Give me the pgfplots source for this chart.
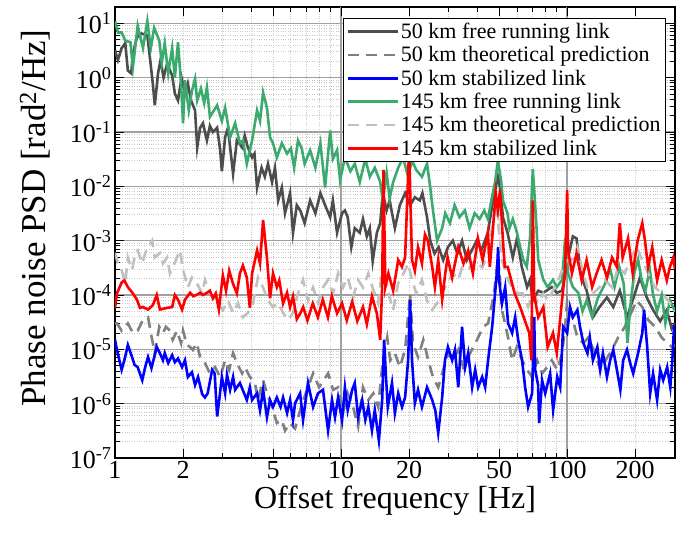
\documentclass[border=0pt]{standalone}
\usepackage{fontspec}
\setmainfont{Liberation Serif}
\usepackage{pgfplots}
\pgfplotsset{compat=1.18}
\definecolor{kgray}{RGB}{77,77,77}
\definecolor{dgray}{RGB}{128,128,128}
\definecolor{lgray}{RGB}{192,192,192}
\definecolor{fgreen}{RGB}{60,170,110}
\begin{document}
\begin{tikzpicture}
\begin{axis}[
  xmode=log, ymode=log,
  xmin=1, xmax=300, ymin=1e-7, ymax=20,
  scale only axis, width=560pt, height=451pt,
  xtick={1,2,5,10,20,50,100,200},
  xticklabels={1,2,5,10,20,50,100,200},
  minor xtick={2,3,4,5,6,7,8,9,20,30,40,50,60,70,80,90,200,300},
  extra x ticks={10,100}, extra x tick labels={},
  extra x tick style={grid=major},
  ytick={1e-7,1e-6,1e-5,1e-4,1e-3,1e-2,1e-1,1,10},
  yticklabels={10\textsuperscript{-7},10\textsuperscript{-6},10\textsuperscript{-5},10\textsuperscript{-4},10\textsuperscript{-3},10\textsuperscript{-2},10\textsuperscript{-1},10\textsuperscript{0},10\textsuperscript{1}},
  minor ytick={2e-7,3e-7,4e-7,5e-7,6e-7,7e-7,8e-7,9e-7,
               2e-6,3e-6,4e-6,5e-6,6e-6,7e-6,8e-6,9e-6,
               2e-5,3e-5,4e-5,5e-5,6e-5,7e-5,8e-5,9e-5,
               2e-4,3e-4,4e-4,5e-4,6e-4,7e-4,8e-4,9e-4,
               2e-3,3e-3,4e-3,5e-3,6e-3,7e-3,8e-3,9e-3,
               2e-2,3e-2,4e-2,5e-2,6e-2,7e-2,8e-2,9e-2,
               2e-1,3e-1,4e-1,5e-1,6e-1,7e-1,8e-1,9e-1,
               2,3,4,5,6,7,8,9},
  xmajorgrids=false, xminorgrids=true,
  ymajorgrids=true, yminorgrids=true,
  major grid style={draw={rgb,255:red,160;green,160;blue,160}, line width=1.3pt},
  minor grid style={draw={rgb,255:red,200;green,200;blue,200}, dotted, line width=0.9pt},
  major tick length=9pt, minor tick length=5pt,
  every tick/.style={black, line width=0.9pt},
  axis line style={black, line width=1.3pt},
  tick label style={font=\fontsize{26}{31}\selectfont},
  xlabel style={font=\fontsize{32}{38}\selectfont},
  ylabel style={font=\fontsize{35}{40}\selectfont, at={(axis description cs:-0.143,0.532)}, anchor=center},
  xlabel={Offset frequency [Hz]},
  ylabel={Phase noise PSD [rad\textsuperscript{2}/Hz]},
  legend style={at={(0.984,0.976)}, anchor=north east,
    font=\fontsize{22}{24}\selectfont, draw=black, line width=0.8pt,
    fill=white, inner sep=3pt, row sep=2.5pt},
  legend cell align=left,
  legend image code/.code={\draw[#1] (0pt,0pt) -- (50pt,0pt);},
  every axis plot/.append style={line width=2.6pt, no markers},
]
% 50 km free running link
\addplot[kgray] coordinates {
(1.0,3.2)(1.03,2.1)(1.07,3.5)(1.11,4.3)(1.14,1.35)(1.18,1.2)(1.2,2.8)(1.25,5.5)(1.31,6.5)(1.39,6)(1.42,2.8)(1.47,0.78)(1.5,0.31)(1.55,1.2)(1.59,2.1)(1.64,1.0)(1.7,1.8)(1.79,1.1)(1.84,0.51)(1.9,0.38)(1.97,1.0)(2.04,0.51)(2.1,0.78)(2.17,0.38)(2.26,0.25)(2.31,0.052)(2.38,0.12)(2.45,0.145)(2.55,0.07)(2.63,0.13)(2.71,0.1)(2.83,0.12)(2.92,0.046)(2.97,0.019)(3.07,0.08)(3.16,0.12)(3.33,0.017)(3.46,0.07)(3.65,0.052)(3.75,0.086)(3.87,0.052)(4.04,0.034)(4.14,0.04)(4.25,0.0095)(4.45,0.022)(4.6,0.015)(4.75,0.026)(4.95,0.012)(5.1,0.022)(5.27,0.0055)(5.47,0.0095)(5.65,0.0032)(5.95,0.0075)(6.13,0.0014)(6.37,0.0045)(6.6,0.0036)(6.9,0.0021)(7.3,0.0055)(7.7,0.0032)(8.1,0.0075)(8.5,0.0045)(8.95,0.0027)(9.2,0.0055)(9.6,0.0014)(10.1,0.0032)(10.4,0.0036)(10.7,0.0027)(11.1,0.00076)(11.5,0.0017)(12.1,0.0014)(12.5,0.0025)(13,0.0012)(13.4,0.0017)(13.8,0.00042)(14.4,0.0014)(14.9,0.0021)(15.3,0.0075)(15.9,0.0036)(16.4,0.0055)(17.3,0.0017)(18.2,0.0045)(19.2,0.0075)(20.2,0.0045)(21.2,0.0063)(22.3,0.0055)(22.9,0.0075)(24,0.0027)(24.8,0.001)(25.9,0.00058)(27,0.00076)(28.3,0.00044)(29.7,0.00076)(31.2,0.001)(32.7,0.00058)(34.3,0.001)(36,0.00044)(37.9,0.00067)(39.8,0.001)(41.8,0.00067)(44.6,0.0014)(47,0.0055)(49.4,0.015)(50.5,0.0095)(52,0.0027)(54.5,0.0014)(57.5,0.00049)(60,0.0011)(63,0.00033)(66.5,0.00014)(68.5,0.00019)(70.5,8e-5)(74.5,1.2e-4)(78.5,1.1e-4)(85.5,1.4e-4)(90,1.1e-4)(95,1.2e-4)(101,0.00049)(106,0.0012)(110,0.0011)(113,0.00044)(117,0.00019)(122,1.2e-4)(130,3.9e-5)(139,6e-5)(150,9e-5)(160,6e-5)(171,1.2e-4)(184,3.9e-5)(195,8e-5)(210,2.1e-4)(225,9e-5)(240,5.3e-5)(258,3.3e-5)(276,5.3e-5)(290,2.4e-5)(300,3e-5)
};
\addlegendentry{50 km free running link}
% 50 km theoretical prediction
\addplot[dgray, dash pattern=on 11pt off 7pt] coordinates {
(1.0,3e-5)(1.02,3e-5)(1.07,2.2e-5)(1.11,2.6e-5)(1.14,3e-5)(1.2,2e-5)(1.26,2.2e-5)(1.33,3.5e-5)(1.4,3.9e-5)(1.46,1.5e-5)(1.5,8.5e-6)(1.57,2.6e-5)(1.63,2e-5)(1.68,2.6e-5)(1.75,2.2e-5)(1.8,1.5e-5)(1.88,2.2e-5)(1.96,1.3e-5)(2.0,2.2e-5)(2.08,1.2e-5)(2.15,1.1e-5)(2.21,9.8e-6)(2.3,1.3e-5)(2.38,7.2e-6)(2.5,5.6e-6)(2.63,3.6e-6)(2.77,4.7e-6)(2.92,3.1e-6)(3.07,6.3e-6)(3.2,4.2e-6)(3.33,8.5e-6)(3.46,5.6e-6)(3.65,3.6e-6)(3.76,4.7e-6)(3.95,3.1e-6)(4.16,2.4e-6)(4.29,1.17e-6)(4.52,2.7e-6)(4.7,1.55e-6)(4.95,8.7e-7)(5.2,4.4e-7)(5.47,5e-7)(5.65,3.2e-7)(5.95,4.4e-7)(6.26,3.5e-7)(6.72,1e-6)(7.14,2e-6)(7.52,3.6e-6)(8.0,2e-6)(8.76,3.6e-6)(9.22,1.8e-6)(9.7,2e-6)(10.2,6.7e-7)(10.7,1.55e-6)(11.3,8.7e-7)(11.9,3.8e-7)(12.5,2e-6)(13.2,1.17e-6)(13.9,1.55e-6)(14.6,8.7e-7)(15.3,6.3e-6)(16,1.65e-5)(16.5,6.3e-6)(17.3,8.5e-6)(18.2,4.7e-6)(19.2,9.8e-6)(20.2,1.07e-4)(20.8,1.3e-5)(21.9,7.2e-6)(23.1,1.5e-5)(24.3,6.3e-6)(25.5,3.1e-6)(26.9,2e-6)(28.3,4.2e-6)(29.7,8.5e-6)(31.3,6.3e-6)(33,9.8e-6)(34.7,4.7e-6)(36.5,7.2e-6)(38.4,1.1e-5)(40.4,1.65e-5)(42.5,2.6e-5)(44.7,3e-5)(47.5,1.07e-4)(49.4,5e-4)(50.5,1.9e-4)(51.5,5.3e-5)(54.8,1.65e-5)(57.1,6.3e-6)(59.9,1.1e-5)(63.2,6.3e-6)(66.5,4.2e-6)(70,3.1e-6)(73.7,6.3e-6)(77.5,3.6e-6)(81.6,4.7e-6)(85.5,6.3e-6)(90.4,4.2e-6)(95,8.5e-6)(98,2.6e-5)(100,7.9e-5)(106,3.5e-5)(111,1.65e-5)(118,1.3e-5)(124,1.65e-5)(133,8.5e-6)(140,4.2e-6)(148,6.3e-6)(158,9.8e-6)(168,1.65e-5)(180,2.6e-5)(192,4.7e-5)(203,7.9e-5)(215,6e-5)(228,3.5e-5)(245,2.6e-5)(262,1.65e-5)(277,1.3e-5)(292,1.1e-5)(300,1.2e-5)
};
\addlegendentry{50 km theoretical prediction}
% 50 km stabilized link
\addplot[blue] coordinates {
(1.0,1.5e-5)(1.02,9.8e-6)(1.07,4.2e-6)(1.1,6.3e-6)(1.14,1.2e-5)(1.19,7.2e-6)(1.22,5.2e-6)(1.26,4.7e-6)(1.32,2.7e-6)(1.36,4.7e-6)(1.4,7.2e-6)(1.45,4.5e-6)(1.53,1.1e-5)(1.58,8.5e-6)(1.63,6.3e-6)(1.66,8.5e-6)(1.72,5.6e-6)(1.79,7.8e-6)(1.84,5.8e-6)(1.9,6.8e-6)(1.98,4.7e-6)(2.04,6.3e-6)(2.1,3.1e-6)(2.19,3.8e-6)(2.26,2.2e-6)(2.33,3.1e-6)(2.43,1.5e-6)(2.5,1.3e-6)(2.57,1.55e-6)(2.69,4.2e-6)(2.76,3.6e-6)(2.83,5.8e-7)(2.9,1.3e-6)(2.97,3.1e-6)(3.07,1.55e-6)(3.13,3.4e-6)(3.23,1.8e-6)(3.33,3.1e-6)(3.4,1.8e-6)(3.57,2.4e-6)(3.83,1.17e-6)(3.95,2e-6)(4.04,1.17e-6)(4.25,1.55e-6)(4.38,7.6e-7)(4.52,1.8e-6)(4.7,5.6e-7)(4.85,1.17e-6)(5.0,8.7e-7)(5.2,1.3e-6)(5.4,8.7e-7)(5.54,1.3e-6)(5.77,6.7e-7)(5.95,1.17e-6)(6.13,5e-7)(6.26,1.02e-6)(6.59,1.55e-6)(6.79,5e-7)(7.14,2.4e-6)(7.52,8.7e-7)(7.91,1.55e-6)(8.32,1.8e-6)(8.76,3.2e-7)(9.12,1.17e-6)(9.4,5.6e-7)(9.7,1.3e-6)(10.1,5e-7)(10.4,2e-6)(10.7,7.6e-7)(11.2,1.8e-6)(11.5,2.4e-6)(11.9,5.6e-7)(12.4,1.17e-6)(12.8,5e-7)(13.2,8.7e-7)(13.7,3.2e-7)(14.1,7.6e-7)(14.7,2.1e-7)(15.2,1.17e-6)(15.5,1.5e-5)(15.8,3.1e-6)(16.1,8.7e-7)(16.8,2.4e-6)(17.3,6.7e-7)(17.9,1.55e-6)(18.6,8.7e-7)(19.2,1.3e-6)(19.8,6.3e-6)(20.2,8e-5)(20.6,6.3e-6)(21.2,1.02e-6)(21.9,1.8e-6)(22.8,8.7e-7)(24,2e-6)(25.3,1.17e-6)(26.1,7.6e-7)(26.9,2.9e-7)(28,1.3e-6)(28.8,6.3e-6)(29.7,1.1e-5)(31,6.3e-6)(31.9,9.8e-6)(33,2e-6)(34.3,2.6e-5)(35.4,4.7e-6)(36.5,8.5e-6)(38,2e-6)(39.2,4.2e-6)(40.4,2e-6)(42.1,3.1e-6)(43.4,2e-6)(44.7,6.3e-6)(46.6,2.6e-5)(48,1.07e-4)(49,2.9e-4)(49.5,7.6e-4)(50,1.85e-4)(51.5,7e-5)(53.2,1.4e-4)(54.8,3e-5)(57.1,2e-5)(58.9,3.9e-5)(60.7,1.5e-5)(63.2,6.3e-6)(65.2,2e-6)(67.2,8.7e-7)(70,1.55e-6)(71.5,3.9e-5)(72.2,4.2e-6)(74.4,2.2e-6)(75.2,4.4e-7)(77.5,2.7e-6)(80,1.55e-6)(84.1,3.6e-6)(86.7,7.6e-7)(90.4,3.1e-6)(93.2,2e-6)(96,2.6e-5)(100,2e-5)(103,6e-5)(106,3.9e-5)(111,5.3e-5)(114,2.6e-5)(118,1.3e-5)(123,8.5e-6)(126,1.65e-5)(130,6.3e-6)(136,1.1e-5)(140,4.2e-6)(144,8.5e-6)(150,3.1e-6)(155,6.3e-6)(160,9.8e-6)(166,4.2e-6)(172,1.8e-6)(177,6.3e-6)(184,9.8e-6)(190,5.6e-6)(196,3.6e-6)(206,8.5e-6)(215,2e-5)(219,5.3e-5)(226,1.1e-5)(233,1.55e-6)(240,3.6e-6)(250,1.17e-6)(258,4.2e-6)(266,2.7e-6)(277,4.7e-6)(286,2e-6)(292,6.3e-6)(297,2.6e-5)(300,2.8e-5)
};
\addlegendentry{50 km stabilized link}
% 145 km free running link
\addplot[fgreen] coordinates {
(1.0,11)(1.03,6.8)(1.07,6.8)(1.11,4.8)(1.17,4.5)(1.2,1.55)(1.26,9)(1.33,3.5)(1.39,11)(1.44,3.5)(1.49,8.3)(1.57,4.8)(1.61,1.9)(1.66,4.3)(1.72,1.2)(1.79,3.5)(1.84,1.0)(1.9,4.5)(1.96,0.78)(2.0,0.145)(2.04,0.9)(2.12,0.25)(2.19,0.57)(2.26,0.95)(2.31,0.38)(2.4,0.63)(2.48,0.34)(2.55,0.66)(2.63,0.19)(2.83,0.31)(2.97,0.16)(3.07,0.28)(3.23,0.08)(3.4,0.145)(3.57,0.062)(3.68,0.07)(3.83,0.026)(4.04,0.07)(4.25,0.25)(4.38,0.16)(4.52,0.53)(4.7,0.28)(4.85,0.08)(5.0,0.062)(5.2,0.034)(5.47,0.062)(5.77,0.04)(6.0,0.05)(6.2,0.022)(6.45,0.07)(6.7,0.05)(6.9,0.026)(7.3,0.046)(7.7,0.022)(8.1,0.062)(8.5,0.0095)(8.95,0.107)(9.2,0.032)(9.6,0.046)(9.9,0.013)(10.4,0.034)(11,0.019)(11.5,0.026)(12.1,0.012)(12.8,0.032)(13.4,0.015)(14.1,0.022)(14.9,0.012)(15.3,0.0055)(15.9,0.018)(16.4,0.006)(17,0.012)(17.9,0.022)(18.8,0.034)(19.8,0.015)(20.6,0.03)(21.5,0.02)(22.8,0.015)(24,0.026)(24.8,0.0095)(25.5,0.0036)(26.6,0.001)(28,0.0017)(28.9,0.0032)(30.3,0.0021)(31.8,0.0045)(33.4,0.0027)(35.3,0.0036)(37,0.0017)(39,0.0032)(41,0.0025)(43,0.0036)(44.6,0.0025)(46.5,0.0063)(48,0.012)(49.4,0.03)(51,0.013)(52,0.0055)(54.5,0.0032)(55.6,0.0017)(57.5,0.0025)(60,0.0014)(62,0.00076)(64,0.00044)(66.3,0.00033)(68.5,0.0011)(70.5,0.021)(72.8,0.0027)(74.5,0.00044)(78.5,0.00019)(82,0.00014)(86.6,0.00019)(90,0.00014)(95,0.00019)(98,0.0011)(101,0.00025)(106,0.00014)(112,1.1e-4)(117,5e-5)(122,8e-5)(129,4e-5)(137,9e-5)(147,1.6e-4)(155,3e-4)(162,1.4e-4)(170,3.3e-4)(178,1.6e-4)(185,1.3e-5)(190,6e-5)(198,2.5e-4)(206,4.5e-4)(213,2e-4)(222,1.2e-4)(232,3e-4)(240,1e-4)(250,5e-5)(262,1e-4)(272,3e-5)(285,8e-5)(300,5e-5)
};
\addlegendentry{145 km free running link}
% 145 km theoretical prediction
\addplot[lgray, dash pattern=on 11pt off 7pt] coordinates {
(1.0,6e-4)(1.03,3.8e-4)(1.07,2.9e-4)(1.11,1.66e-4)(1.14,4.9e-4)(1.19,2.9e-4)(1.23,5.9e-4)(1.26,6.6e-4)(1.32,3.8e-4)(1.36,5.9e-4)(1.4,7.6e-4)(1.46,1e-3)(1.5,4.9e-4)(1.58,5.9e-4)(1.63,3.8e-4)(1.7,4.9e-4)(1.75,2.5e-4)(1.8,3.2e-4)(1.88,4.9e-4)(1.94,6.6e-4)(2.0,2.9e-4)(2.1,1.38e-4)(2.19,2.1e-4)(2.3,1.66e-4)(2.43,1.07e-4)(2.5,1.9e-4)(2.63,1.07e-4)(2.83,7.1e-5)(3.0,5.3e-5)(3.16,7.9e-5)(3.33,4.7e-5)(3.5,7.1e-5)(3.68,3.9e-5)(3.87,4.7e-5)(4.08,7.1e-5)(4.29,2.1e-4)(4.52,1.38e-4)(4.75,7.9e-5)(5.0,6e-5)(5.27,7.1e-5)(5.54,4.7e-5)(5.83,3.5e-5)(6.13,4.7e-5)(6.45,1.07e-4)(6.79,1.9e-4)(7.14,7.9e-5)(7.52,1.38e-4)(7.91,7.1e-5)(8.32,1.38e-4)(8.76,1.9e-4)(9.22,1.07e-4)(9.7,2.5e-4)(10.2,1.38e-4)(10.7,2.1e-4)(11.3,9.1e-5)(11.9,1.9e-4)(12.5,1.38e-4)(13.2,2.5e-4)(13.9,1.23e-4)(14.6,7.1e-5)(15.3,3.8e-4)(16.2,1.07e-4)(17,5.3e-5)(17.9,1.66e-4)(18.9,2.5e-4)(19.8,3.8e-4)(20.6,1.9e-4)(21.5,1.07e-4)(22.8,1.9e-4)(24,7.9e-5)(25.3,5.3e-5)(26.6,7.1e-5)(28,1.07e-4)(29.4,1.66e-4)(31.3,2.5e-4)(33,1.9e-4)(34.3,3.2e-4)(36.5,2.9e-4)(39.2,4.4e-4)(42.1,3.2e-4)(44.7,5.9e-4)(46.6,0.0018)(48.5,0.0049)(50,0.0014)(51.5,4.4e-4)(54.8,1.9e-4)(58,1.23e-4)(60.7,1.07e-4)(63.7,1.07e-4)(67.2,6e-5)(70.8,1.07e-4)(74.4,7.1e-5)(78.5,1.07e-4)(82.5,7.9e-5)(86.7,1.23e-4)(91.5,1.9e-4)(96,3.2e-4)(100,4.4e-4)(105,4.4e-4)(111,7.6e-4)(116,3.2e-4)(123,1.38e-4)(130,1.07e-4)(139,1.38e-4)(147,1.9e-4)(158,1.38e-4)(168,3.2e-4)(180,2.5e-4)(192,4.9e-4)(203,7.6e-4)(215,4.4e-4)(228,2.5e-4)(245,1.38e-4)(262,1.07e-4)(280,7.9e-5)(300,5e-5)
};
\addlegendentry{145 km theoretical prediction}
% 145 km stabilized link
\addplot[red] coordinates {
(1.0,5.8e-5)(1.02,1.07e-4)(1.07,1.7e-4)(1.1,1.85e-4)(1.14,1.4e-4)(1.2,1.07e-4)(1.25,8.2e-5)(1.29,5.8e-5)(1.33,6e-5)(1.4,5.4e-5)(1.47,6.5e-5)(1.53,1e-4)(1.58,5.4e-5)(1.7,5.8e-5)(1.79,6e-5)(1.84,1e-4)(1.9,8.2e-5)(1.98,5.4e-5)(2.04,8.2e-5)(2.15,1.1e-4)(2.22,9.5e-5)(2.29,1e-4)(2.38,1.1e-4)(2.45,1e-4)(2.55,1.1e-4)(2.63,1.2e-4)(2.71,8.7e-5)(2.79,1.07e-4)(2.88,5.4e-5)(3.0,2.3e-4)(3.1,1.2e-4)(3.2,2.8e-4)(3.33,1.6e-4)(3.46,1.07e-4)(3.57,2.5e-4)(3.68,3.5e-4)(3.83,2.1e-4)(3.95,5.8e-5)(4.04,2.5e-4)(4.25,6.6e-4)(4.38,3.8e-4)(4.52,2.4e-3)(4.7,4.9e-4)(4.85,8.7e-5)(5.0,2.5e-4)(5.2,1.4e-4)(5.33,1.85e-4)(5.54,7e-5)(5.77,1.1e-4)(5.95,6e-5)(6.13,9.5e-5)(6.37,3.6e-5)(6.6,4.6e-5)(6.8,6e-5)(7.1,3.4e-5)(7.5,7e-5)(7.9,3.9e-5)(8.3,8.2e-5)(8.75,3.9e-5)(9.1,9.5e-5)(9.6,4.6e-5)(10.1,7e-5)(10.6,3.4e-5)(11.2,7.5e-5)(11.8,3.3e-5)(12.5,6e-5)(13,2.9e-5)(13.7,9.5e-5)(14.4,4.6e-5)(14.9,1.5e-5)(15.2,1.4e-4)(15.4,0.02)(15.7,1.4e-4)(16.2,2.5e-4)(17,1.2e-4)(17.9,4.4e-4)(18.6,3.3e-4)(19.2,4.9e-4)(20.0,0.05)(20.6,4.4e-4)(21.2,2.8e-4)(21.9,7.6e-4)(22.8,3.8e-4)(23.5,0.0013)(24.2,0.001)(25.3,3.3e-4)(26,1.4e-4)(26.9,4.4e-4)(28,8.2e-5)(28.9,2.5e-4)(29.6,4.9e-4)(31,2.1e-4)(33,7.6e-4)(34.8,3.8e-4)(36.5,6.6e-4)(38.3,2.5e-4)(40.3,0.0011)(42.3,4.4e-4)(44.6,0.0014)(45.5,3.3e-4)(47,0.0017)(48.3,0.0075)(49.4,0.0036)(50.5,0.0085)(52,0.001)(53,3.3e-4)(54.6,3.3e-4)(58.6,1.07e-4)(62,6e-5)(65,3.4e-5)(68,2e-5)(69.5,6.3e-6)(70.5,0.0055)(71.5,1e-4)(74.5,3.9e-5)(78.5,6e-5)(82,1.1e-5)(86.6,2e-5)(90,8.5e-6)(95,8.2e-5)(98,2.8e-4)(100,0.0085)(101,6.6e-4)(105,2.5e-4)(110,5.8e-4)(116,1.85e-4)(122,4.4e-4)(129,1.4e-4)(135,2.5e-4)(142,4.4e-4)(150,2.1e-4)(158,4.9e-4)(166,3.3e-4)(171,0.0021)(176,4.9e-4)(186,0.0011)(195,2.5e-4)(205,0.001)(215,0.0021)(221,0.001)(228,3.3e-4)(238,7.6e-4)(250,1.85e-4)(262,4.4e-4)(276,1.85e-4)(285,3.3e-4)(295,4.9e-4)(300,3e-4)
};
\addlegendentry{145 km stabilized link}
\end{axis}
\path (current axis.south west) ++(-115pt,-79pt);
\path (current axis.north east) ++(19pt,7pt);
\end{tikzpicture}
\end{document}
